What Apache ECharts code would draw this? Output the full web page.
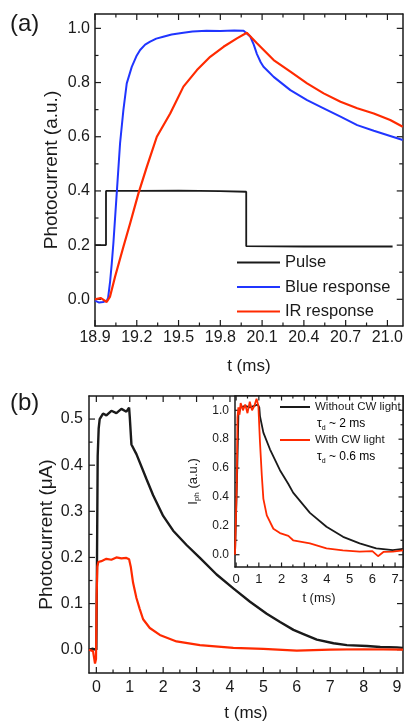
<!DOCTYPE html>
<html>
<head>
<meta charset="utf-8">
<script src="https://cdn.jsdelivr.net/npm/echarts@6/dist/echarts.min.js"></script>
<style>
html,body{margin:0;padding:0;background:#fff;}
#chart{width:406px;height:723px;}
</style>
</head>
<body>
<div id="chart"></div>
<script>
// ---------------- Panel (a) data ----------------
const pulseT = [18.9, 18.979, 18.979, 19.2, 19.5, 19.8, 19.986, 19.986, 20.4, 20.8, 21.037];
const pulseV = [0.2, 0.2, 0.4, 0.4, 0.401, 0.399, 0.397, 0.196, 0.195, 0.195, 0.195];

const blueT = [18.9, 18.93, 18.958, 18.985, 18.994, 19.008, 19.02, 19.032, 19.056, 19.08, 19.104, 19.128, 19.164, 19.2, 19.224, 19.26, 19.296, 19.34, 19.39, 19.45, 19.535, 19.6, 19.7, 19.8, 19.9, 19.967, 20.015, 20.04, 20.063, 20.09, 20.11, 20.15, 20.183, 20.303, 20.423, 20.542, 20.663, 20.783, 20.902, 21.02, 21.11];
const blueV = [-0.005, -0.012, -0.01, -0.005, 0.005, 0.063, 0.13, 0.207, 0.391, 0.576, 0.699, 0.797, 0.858, 0.9, 0.92, 0.94, 0.951, 0.962, 0.969, 0.977, 0.984, 0.988, 0.991, 0.99, 0.992, 0.991, 0.97, 0.94, 0.905, 0.875, 0.858, 0.838, 0.821, 0.772, 0.735, 0.705, 0.674, 0.643, 0.622, 0.603, 0.588];

const irT = [18.9, 18.94, 18.984, 19.008, 19.044, 19.104, 19.152, 19.212, 19.272, 19.344, 19.44, 19.535, 19.632, 19.727, 19.823, 19.919, 19.99, 20.063, 20.183, 20.303, 20.423, 20.542, 20.663, 20.783, 20.902, 21.02, 21.11];
const irV = [0.0, 0.005, -0.01, 0.01, 0.083, 0.194, 0.28, 0.391, 0.489, 0.6, 0.686, 0.785, 0.846, 0.895, 0.932, 0.963, 0.984, 0.945, 0.883, 0.84, 0.797, 0.76, 0.729, 0.705, 0.686, 0.662, 0.637];

const aLegend = ['Pulse', 'Blue response', 'IR response'];
const aXTicks = [18.9, 19.2, 19.5, 19.8, 20.1, 20.4, 20.7, 21.0];
const aXMinor = [19.05, 19.35, 19.65, 19.95, 20.25, 20.55, 20.85];
const aYTicks = [0.0, 0.2, 0.4, 0.6, 0.8, 1.0];
const aYMinor = [0.1, 0.3, 0.5, 0.7, 0.9];

// ---------------- Panel (b) main data ----------------
const noCwT = [-0.22, -0.1, 0.0, 0.02, 0.04, 0.07, 0.1, 0.2, 0.3, 0.45, 0.6, 0.75, 0.9, 0.98, 1.0, 1.05, 1.2, 1.5, 1.7, 2.0, 2.3, 2.7, 3.1, 3.6, 4.1, 4.6, 5.1, 5.5, 5.9, 6.2, 6.6, 7.1, 7.5, 8.1, 8.5, 9.0, 9.18];
const noCwV = [0.0, 0.002, 0.0, 0.2, 0.42, 0.48, 0.5, 0.512, 0.508, 0.518, 0.513, 0.522, 0.516, 0.525, 0.505, 0.445, 0.424, 0.37, 0.335, 0.29, 0.258, 0.227, 0.199, 0.163, 0.133, 0.104, 0.078, 0.06, 0.043, 0.034, 0.022, 0.014, 0.01, 0.008, 0.006, 0.005, 0.004];

const cwT = [-0.22, -0.1, -0.04, -0.01, 0.01, 0.03, 0.06, 0.15, 0.3, 0.45, 0.6, 0.75, 0.9, 0.98, 1.03, 1.1, 1.2, 1.3, 1.4, 1.6, 1.9, 2.4, 3.1, 4.1, 5.0, 6.0, 7.0, 8.0, 9.18];
const cwV = [0.0, -0.003, -0.03, -0.02, 0.12, 0.18, 0.19, 0.192, 0.197, 0.195, 0.2, 0.198, 0.199, 0.196, 0.18, 0.145, 0.112, 0.088, 0.066, 0.047, 0.032, 0.018, 0.01, 0.004, 0.002, -0.002, 0.0, 0.001, 0.0];

const bXTicks = [0, 1, 2, 3, 4, 5, 6, 7, 8, 9];
const bXMinor = [0.5, 1.5, 2.5, 3.5, 4.5, 5.5, 6.5, 7.5, 8.5];
const bYTicks = [0.0, 0.1, 0.2, 0.3, 0.4, 0.5];
const bYMinor = [0.05, 0.15, 0.25, 0.35, 0.45];

// ---------------- Panel (b) inset data (normalised) ----------------
const inNoCwT = [-0.05, 0.0, 0.05, 0.1, 0.2, 0.4, 0.6, 0.8, 0.95, 1.02, 1.05, 1.2, 1.49, 1.93, 2.3, 2.51, 3.25, 3.98, 4.71, 5.44, 6.17, 6.9, 7.35];
const inNoCwV = [0.0, 0.0, 0.6, 0.97, 1.02, 1.03, 1.02, 1.03, 1.04, 1.02, 0.96, 0.845, 0.73, 0.585, 0.49, 0.43, 0.29, 0.194, 0.124, 0.079, 0.044, 0.032, 0.04];

const inCwT = [-0.05, 0.0, 0.03, 0.06, 0.1, 0.15, 0.2, 0.3, 0.4, 0.5, 0.6, 0.7, 0.8, 0.9, 0.98, 1.05, 1.13, 1.2, 1.35, 1.64, 1.93, 2.3, 2.51, 3.25, 3.98, 4.7, 5.44, 6.0, 6.25, 6.5, 6.9, 7.35];
const inCwV = [0.0, 0.0, 0.5, 0.95, 1.02, 0.97, 1.05, 1.0, 1.04, 0.98, 1.06, 1.0, 1.03, 1.08, 1.03, 0.78, 0.55, 0.387, 0.272, 0.18, 0.15, 0.13, 0.1, 0.079, 0.044, 0.03, 0.021, 0.025, -0.01, 0.02, 0.021, 0.03];

const insetLegend = ['Without CW light', 'With CW light'];
const tauTexts = ['~ 2 ms', '~ 0.6 ms'];
const iXTicks = [0, 1, 2, 3, 4, 5, 6, 7];
const iXMinor = [0.5, 1.5, 2.5, 3.5, 4.5, 5.5, 6.5];
const iYTicks = [0.0, 0.2, 0.4, 0.6, 0.8, 1.0];
const iYMinor = [0.1, 0.3, 0.5, 0.7, 0.9];

// ---------------- build ----------------
const FONT = "'Liberation Sans', Arial, sans-serif";
const INK = '#1a1a1a';
const BLUE = '#2035ff';
const RED = '#ff2a00';

const xAxes = [], yAxes = [];
function addBox(gi, xr, yr, c) {
  const axLine = {show: true, onZero: false, lineStyle: {color: INK, width: 1.5}};
  const lab = (vals, fs, margin, fmt) => ({show: true, customValues: vals, fontSize: fs, margin: margin, formatter: fmt, color: INK, fontFamily: FONT});
  const xb = {gridIndex: gi, type: 'value', min: xr.min, max: xr.max, splitLine: {show: false}, axisTick: {show: false}, axisLine: axLine};
  const yb = {gridIndex: gi, type: 'value', min: yr.min, max: yr.max, splitLine: {show: false}, axisTick: {show: false}, axisLine: axLine};
  if (c.z) { xb.z = c.z; yb.z = c.z; }
  const xi = xAxes.length, yi = yAxes.length;
  xAxes.push(Object.assign({}, xb, {position: 'bottom',
    axisLabel: lab(xr.major, c.xfs, c.xMargin, xr.fmt),
    name: c.xName, nameLocation: 'middle', nameGap: c.xNameGap, nameMoveOverlap: false,
    nameTextStyle: {fontSize: c.xNameSize, fontFamily: FONT, color: INK}}));
  xAxes.push(Object.assign({}, xb, {position: 'top', axisLabel: {show: false}}));
  yAxes.push(Object.assign({}, yb, {position: 'left',
    axisLabel: lab(yr.major, c.yfs, c.yMargin, yr.fmt),
    name: c.yName, nameLocation: 'middle', nameGap: c.yNameGap, nameMoveOverlap: false,
    nameTextStyle: Object.assign({fontSize: c.yNameSize, fontFamily: FONT, color: INK}, c.yNameRich ? {rich: c.yNameRich} : {})}));
  yAxes.push(Object.assign({}, yb, {position: 'right', axisLabel: {show: false}}));
  return {xi, yi, xr, yr, c};
}
const f1 = v => Number(v).toFixed(1);
const f0 = v => String(Math.round(v));

const A = addBox(0,
  {min: 18.9, max: 21.11, major: aXTicks, minor: aXMinor, fmt: f1},
  {min: -0.0985, max: 1.053, major: aYTicks, minor: aYMinor, fmt: f1},
  {majLen: 6, minLen: 3.5, xfs: 16, xMargin: 4, yfs: 16, yMargin: 5,
   xName: 't (ms)', xNameGap: 32, xNameSize: 17,
   yName: 'Photocurrent (a.u.)', yNameGap: 34, yNameSize: 19});
const B = addBox(1,
  {min: -0.22, max: 9.18, major: bXTicks, minor: bXMinor, fmt: f0},
  {min: -0.0505, max: 0.55, major: bYTicks, minor: bYMinor, fmt: f1},
  {majLen: 6, minLen: 3.5, xfs: 16, xMargin: 7, yfs: 16, yMargin: 6,
   xName: 't (ms)', xNameGap: 32, xNameSize: 17,
   yName: 'Photocurrent (\u03bcA)', yNameGap: 33, yNameSize: 19});
const I = addBox(2,
  {min: -0.05, max: 7.35, major: iXTicks, minor: iXMinor, fmt: f0},
  {min: -0.085, max: 1.099, major: iYTicks, minor: iYMinor, fmt: f1},
  {z: 4, majLen: 4.5, minLen: 2.5, xfs: 13, xMargin: 6, yfs: 12, yMargin: 6,
   xName: 't (ms)', xNameGap: 25, xNameSize: 13,
   yName: '{m|I}{s|ph}{m| (a.u.)}', yNameGap: 34, yNameSize: 13,
   yNameRich: {m: {fontSize: 13, fontFamily: FONT, color: INK, lineHeight: 16},
               s: {fontSize: 8, fontFamily: FONT, color: INK, lineHeight: 16, verticalAlign: 'bottom'}}});

// inward tick marks on all four sides, placed through the axes' own scales
function tickSeries(ax, z) {
  const {xr, yr, c} = ax;
  const specs = [];
  xr.major.forEach(v => { specs.push([v, 0, c.majLen], [v, 1, c.majLen]); });
  xr.minor.forEach(v => { specs.push([v, 0, c.minLen], [v, 1, c.minLen]); });
  yr.major.forEach(v => { specs.push([v, 2, c.majLen], [v, 3, c.majLen]); });
  yr.minor.forEach(v => { specs.push([v, 2, c.minLen], [v, 3, c.minLen]); });
  return {
    type: 'custom', xAxisIndex: ax.xi, yAxisIndex: ax.yi, silent: true, animation: false, z: z,
    clip: false, tooltip: {show: false},
    data: specs.map(s => [s[0], s[1], s[2]]),
    renderItem: function (params, api) {
      const v = api.value(0), side = api.value(1), len = api.value(2);
      let p, q;
      if (side === 0) { p = api.coord([v, yr.min]); q = [p[0], p[1] - len]; }
      else if (side === 1) { p = api.coord([v, yr.max]); q = [p[0], p[1] + len]; }
      else if (side === 2) { p = api.coord([xr.min, v]); q = [p[0] + len, p[1]]; }
      else { p = api.coord([xr.max, v]); q = [p[0] - len, p[1]]; }
      return {type: 'line', shape: {x1: p[0], y1: p[1], x2: q[0], y2: q[1]},
              style: {stroke: INK, lineWidth: 1.2}};
    }
  };
}

const zip = (t, v) => t.map((x, i) => [x, v[i]]);
const mkLine = (name, t, v, color, width, ax, z) => ({
  name: name, type: 'line', data: zip(t, v), xAxisIndex: ax.xi, yAxisIndex: ax.yi,
  symbol: 'none', showSymbol: false, smooth: false, animation: false, z: z || 2,
  lineStyle: {color: color, width: width}, itemStyle: {color: color}
});

const tauRich = {
  t: {fontSize: 12, fontFamily: FONT, color: INK, lineHeight: 15},
  d: {fontSize: 7, fontFamily: FONT, color: INK, lineHeight: 15, verticalAlign: 'bottom'}
};

const option = {
  animation: false,
  grid: [
    {left: 95, top: 14, width: 308, height: 312},
    {left: 89, top: 396, width: 314, height: 289},
    {left: 235, top: 396, width: 168, height: 171, show: true, backgroundColor: '#fff', borderWidth: 0, z: 3}
  ],
  xAxis: xAxes,
  yAxis: yAxes,
  legend: [
    {data: aLegend, orient: 'vertical', left: 237, top: 254, padding: 0, icon: 'rect', itemWidth: 43, itemHeight: 2.2, itemGap: 7.5,
     textStyle: {fontSize: 16.5, fontFamily: FONT, color: INK}, selectedMode: false},
    {data: insetLegend, orient: 'vertical', left: 280, top: 401, padding: 0, icon: 'rect', itemWidth: 30, itemHeight: 2, itemGap: 21,
     textStyle: {fontSize: 11.5, fontFamily: FONT, color: INK}, selectedMode: false, z: 6}
  ],
  graphic: [
    {type: 'text', left: 10, top: 12, z: 10, style: {text: '(a)', fontSize: 24, fontFamily: FONT, fill: INK}},
    {type: 'text', left: 10, top: 391, z: 10, style: {text: '(b)', fontSize: 24, fontFamily: FONT, fill: INK}},
    {type: 'text', left: 317, top: 418, z: 10, style: {text: '{t|\u03c4}{d|d}{t| ' + tauTexts[0] + '}', rich: tauRich}},
    {type: 'text', left: 317, top: 451, z: 10, style: {text: '{t|\u03c4}{d|d}{t| ' + tauTexts[1] + '}', rich: tauRich}}
  ],
  series: [
    tickSeries(A, 2),
    tickSeries(B, 2),
    tickSeries(I, 5),
    mkLine('Pulse', pulseT, pulseV, INK, 1.8, A),
    mkLine('Blue response', blueT, blueV, BLUE, 2, A),
    mkLine('IR response', irT, irV, RED, 2.2, A),
    mkLine('Main without CW light', noCwT, noCwV, INK, 2.4, B),
    mkLine('Main with CW light', cwT, cwV, RED, 2.2, B),
    mkLine('Without CW light', inNoCwT, inNoCwV, INK, 1.8, I, 5),
    mkLine('With CW light', inCwT, inCwV, RED, 1.8, I, 5)
  ]
};

const chart = echarts.init(document.getElementById('chart'));
chart.setOption(option);
</script>
</body>
</html>
